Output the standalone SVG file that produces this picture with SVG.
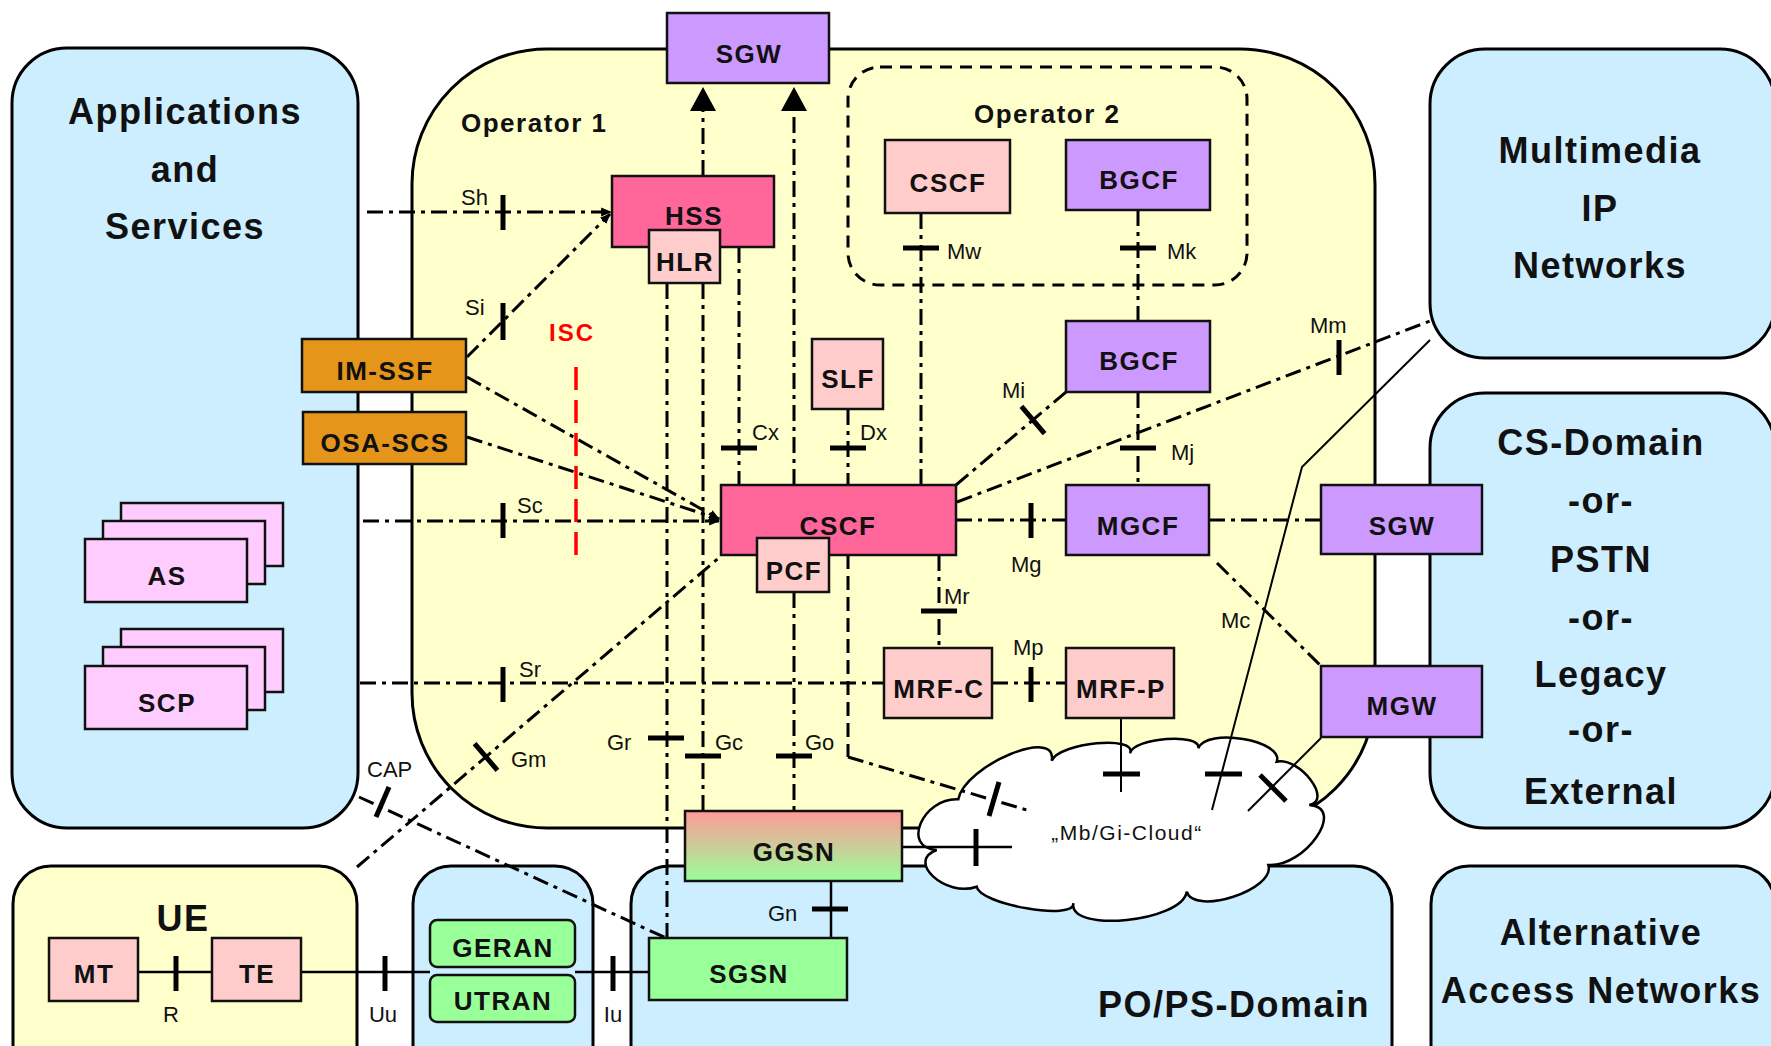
<svg xmlns="http://www.w3.org/2000/svg" width="1771" height="1046" viewBox="0 0 1771 1046">
<defs>
<linearGradient id="ggsnGrad" x1="0" y1="0" x2="0" y2="1">
<stop offset="0" stop-color="#ff9999"/>
<stop offset="1" stop-color="#99ff99"/>
</linearGradient>
<marker id="ah" viewBox="0 0 10 10" refX="9" refY="5" markerWidth="11" markerHeight="11" markerUnits="userSpaceOnUse" orient="auto"><path d="M0,1 L10,5 L0,9 z" fill="#000"/></marker>
<style>
.cont{stroke:#000;stroke-width:3}
.blue{fill:#cceeff}
.yel{fill:#ffffcc}
.box{stroke:#111;stroke-width:2.5}
.pink{fill:#ff6699}
.lpink{fill:#ffcccc}
.purple{fill:#cc99ff}
.orange{fill:#e5961a}
.mag{fill:#ffccff}
.green{fill:#99ff99}
.lbl{font-family:"Liberation Sans",Arial,sans-serif;font-weight:bold;font-size:26px;letter-spacing:1.5px;text-anchor:middle;fill:#111}
.title{font-family:"Liberation Sans",Arial,sans-serif;font-weight:bold;font-size:36px;letter-spacing:1.5px;text-anchor:middle;fill:#111}
.op{font-family:"Liberation Sans",Arial,sans-serif;font-weight:bold;font-size:26px;letter-spacing:1.5px;fill:#111}
.if{font-family:"Liberation Sans",Arial,sans-serif;font-size:22px;fill:#111}
.dd{fill:none;stroke:#000;stroke-width:3;stroke-dasharray:16 6 4 6}
.dash{fill:none;stroke:#000;stroke-width:3;stroke-dasharray:14 7}
.sol{fill:none;stroke:#000;stroke-width:2.5}
.thin{fill:none;stroke:#000;stroke-width:2}
.tick{stroke:#000;stroke-width:5;fill:none}
</style>
</defs>

<g id="containers">
<rect id="apps" x="12" y="48" width="346" height="780" rx="55" class="cont blue"/>
<rect id="operator1" x="412" y="49" width="963" height="779" rx="135" class="cont yel"/>
<rect id="mmip" x="1430" y="49" width="345" height="309" rx="55" class="cont blue"/>
<rect id="csdomain" x="1430" y="393" width="345" height="435" rx="55" class="cont blue"/>
<rect id="ue" x="13" y="866" width="344" height="220" rx="38" class="cont yel"/>
<rect id="ran" x="413" y="866" width="180" height="220" rx="38" class="cont blue"/>
<rect id="pops" x="631" y="866" width="761" height="220" rx="38" class="cont blue"/>
<rect id="alt" x="1431" y="866" width="344" height="220" rx="38" class="cont blue"/>
<rect id="operator2" x="848" y="67" width="399" height="218" rx="32" fill="none" stroke="#000" stroke-width="3" stroke-dasharray="12 8"/>
<text class="title" x="185" y="124">Applications</text>
<text class="title" x="185" y="182">and</text>
<text class="title" x="185" y="239">Services</text>
<text class="op" x="461" y="132">Operator 1</text>
<text class="op" x="974" y="123">Operator 2</text>
<text class="title" x="1600" y="163">Multimedia</text>
<text class="title" x="1600" y="221">IP</text>
<text class="title" x="1600" y="278">Networks</text>
<text class="title" x="1601" y="455">CS-Domain</text>
<text class="title" x="1601" y="513">-or-</text>
<text class="title" x="1601" y="572">PSTN</text>
<text class="title" x="1601" y="630">-or-</text>
<text class="title" x="1601" y="687">Legacy</text>
<text class="title" x="1601" y="742">-or-</text>
<text class="title" x="1601" y="804">External</text>
<text class="title" x="1601" y="945">Alternative</text>
<text class="title" x="1601" y="1003">Access Networks</text>
<text class="title" x="1370" y="1017" style="text-anchor:end">PO/PS-Domain</text>
<text class="title" x="183" y="931">UE</text>
<text x="572" y="341" style="font-family:'Liberation Sans',Arial,sans-serif;font-weight:bold;font-size:24px;letter-spacing:2px;text-anchor:middle;fill:#ff0000">ISC</text>
</g>

<g id="cloud">
<path d="M936.7,850 C901,848.2 922.6,797.5 958.3,799.3 C965,765 1058.4,726.4 1051.7,760.7 C1059.5,742.4 1137.8,735 1130,753.3 C1133.4,737.6 1201.7,732.6 1198.3,748.3 C1206,727 1284.4,740.4 1276.7,761.7 C1300.3,757.2 1332.9,800.5 1309.3,805 C1346.5,807.3 1305.5,867.3 1268.3,865 C1276,889.5 1194.4,916.2 1186.7,891.7 C1182.3,921.7 1068.9,933.3 1073.3,903.3 C1075.6,921 979,904.4 976.7,886.7 C945.5,897.8 905.5,861.1 936.7,850 Z" fill="#ffffff" stroke="#000" stroke-width="2.5"/>
<text x="1127" y="840" style="font-family:'Liberation Sans',Arial,sans-serif;font-size:21px;letter-spacing:1.5px;text-anchor:middle;fill:#111">„Mb/Gi-Cloud“</text>
</g>

<g id="connectors">
<path class="dd" d="M367,212 L611,212" marker-end="url(#ah)"/>
<path class="tick" d="M503,195 L503,230"/>
<text class="if" x="461" y="205">Sh</text>
<path class="dd" d="M467,357 L610,214" marker-end="url(#ah)"/>
<path class="tick" d="M503,303 L503,340"/>
<text class="if" x="465" y="315">Si</text>
<path class="dd" d="M467,377 L719,519" marker-end="url(#ah)"/>
<path class="dd" d="M467,437 L719,519" marker-end="url(#ah)"/>
<path class="dd" d="M363,521 L719,521" marker-end="url(#ah)"/>
<path class="tick" d="M503,503 L503,538"/>
<text class="if" x="517" y="513">Sc</text>
<path class="dd" d="M360,683 L884,683"/>
<path class="tick" d="M503,667 L503,702"/>
<text class="if" x="519" y="677">Sr</text>
<path class="dd" d="M357,867 L721,556"/>
<path class="tick" d="M474.6,743.7 L497.4,770.3"/>
<text class="if" x="511" y="767">Gm</text>
<path class="dd" d="M359,797 L666,938"/>
<path class="tick" d="M389,787 L376,817"/>
<text class="if" x="367" y="777">CAP</text>
<path d="M576,367 L576,557" fill="none" stroke="#ff0000" stroke-width="3.5" stroke-dasharray="23 10"/>

<path class="dd" d="M703,176 L703,110"/>
<polygon points="703,87 690,111 716,111" fill="#000"/>
<path class="dd" d="M794,485 L794,110"/>
<polygon points="794,87 781,111 807,111" fill="#000"/>

<path class="dd" d="M667,283 L667,938"/>
<path class="tick" d="M648,738 L684,738"/>
<text class="if" x="607" y="750">Gr</text>
<path class="dd" d="M703,283 L703,811"/>
<path class="tick" d="M685,756 L721,756"/>
<text class="if" x="715" y="750">Gc</text>
<path class="dd" d="M739,247 L739,485"/>
<path class="tick" d="M721,448 L757,448"/>
<text class="if" x="752" y="440">Cx</text>
<path class="dd" d="M848,409 L848,485"/>
<path class="tick" d="M830,448 L866,448"/>
<text class="if" x="860" y="440">Dx</text>
<path class="dd" d="M921,213 L921,485"/>
<path class="tick" d="M903,248 L939,248"/>
<text class="if" x="947" y="259">Mw</text>
<path class="dd" d="M1138,210 L1138,321"/>
<path class="tick" d="M1120,248 L1156,248"/>
<text class="if" x="1167" y="259">Mk</text>
<path class="dd" d="M1138,392 L1138,485"/>
<path class="tick" d="M1120,448 L1156,448"/>
<text class="if" x="1171" y="460">Mj</text>
<path class="dd" d="M939,555 L939,648"/>
<path class="tick" d="M921,611 L957,611"/>
<text class="if" x="944" y="604">Mr</text>
<path class="dd" d="M794,592 L794,811"/>
<path class="tick" d="M776,756 L812,756"/>
<text class="if" x="805" y="750">Go</text>
<path class="dash" d="M848,555 L848,757"/>
<path class="dd" d="M848,757 L1030,811"/>
<path class="tick" d="M999,782 L989,816"/>
<path class="dd" d="M956,520 L1066,520"/>
<path class="tick" d="M1031,503 L1031,538"/>
<text class="if" x="1011" y="572">Mg</text>
<path class="dd" d="M1209,520 L1321,520"/>
<path class="dd" d="M992,683 L1066,683"/>
<path class="tick" d="M1031,667 L1031,702"/>
<text class="if" x="1013" y="655">Mp</text>
<path class="dd" d="M956,485 L1066,392"/>
<path class="tick" d="M1021.4,406.3 L1044.6,433.7"/>
<text class="if" x="1002" y="398">Mi</text>
<path class="dd" d="M957,502 L1430,321"/>
<path class="tick" d="M1339,340 L1339,375"/>
<text class="if" x="1310" y="333">Mm</text>
<path class="dd" d="M1217,563 L1320,665"/>
<text class="if" x="1221" y="628">Mc</text>
<path class="thin" d="M1430,340 L1302,467 L1212,810"/>
<path class="tick" d="M1205,774 L1242,774"/>
<path class="thin" d="M1121,718 L1121,792"/>
<path class="tick" d="M1103,774 L1140,774"/>
<path class="thin" d="M1321,738 L1248,811"/>
<path class="tick" d="M1260,775 L1286,801"/>
<path class="sol" d="M902,847 L1012,847"/>
<path class="tick" d="M976,829 L976,866"/>
<path class="sol" d="M831,881 L831,938"/>
<path class="tick" d="M812,909 L848,909"/>
<text class="if" x="768" y="921">Gn</text>
<path class="sol" d="M138,972 L212,972"/>
<path class="tick" d="M176,956 L176,991"/>
<text class="if" x="171" y="1022" text-anchor="middle">R</text>
<path class="sol" d="M301,972 L430,972"/>
<path class="tick" d="M385,956 L385,991"/>
<text class="if" x="383" y="1022" text-anchor="middle">Uu</text>
<path class="sol" d="M575,972 L649,972"/>
<path class="tick" d="M613,956 L613,991"/>
<text class="if" x="613" y="1022" text-anchor="middle">Iu</text>
</g>

<g id="sgw-top"><rect x="667" y="13" width="162" height="70" class="box purple"/><text class="lbl" x="749" y="63">SGW</text></g>
<g id="hss"><rect x="612" y="176" width="162" height="71" class="box pink"/><text class="lbl" x="694" y="225">HSS</text></g>
<g id="hlr"><rect x="649" y="230" width="71" height="53" class="box lpink"/><text class="lbl" x="685" y="271">HLR</text></g>
<g id="cscf-op2"><rect x="885" y="140" width="125" height="73" class="box lpink"/><text class="lbl" x="948" y="192">CSCF</text></g>
<g id="bgcf-op2"><rect x="1066" y="140" width="144" height="70" class="box purple"/><text class="lbl" x="1139" y="189">BGCF</text></g>
<g id="bgcf"><rect x="1066" y="321" width="144" height="71" class="box purple"/><text class="lbl" x="1139" y="370">BGCF</text></g>
<g id="slf"><rect x="812" y="339" width="71" height="70" class="box lpink"/><text class="lbl" x="848" y="388">SLF</text></g>
<g id="im-ssf"><rect x="302" y="339" width="164" height="53" class="box orange"/><text class="lbl" x="385" y="380">IM-SSF</text></g>
<g id="osa-scs"><rect x="303" y="412" width="163" height="52" class="box orange"/><text class="lbl" x="385" y="452">OSA-SCS</text></g>
<g id="cscf"><rect x="721" y="485" width="235" height="70" class="box pink"/><text class="lbl" x="838" y="535">CSCF</text></g>
<g id="pcf"><rect x="757" y="538" width="72" height="54" class="box lpink"/><text class="lbl" x="794" y="580">PCF</text></g>
<g id="mgcf"><rect x="1066" y="485" width="143" height="70" class="box purple"/><text class="lbl" x="1138" y="535">MGCF</text></g>
<g id="sgw-right"><rect x="1321" y="485" width="161" height="69" class="box purple"/><text class="lbl" x="1402" y="535">SGW</text></g>
<g id="mrf-c"><rect x="884" y="648" width="108" height="70" class="box lpink"/><text class="lbl" x="939" y="698">MRF-C</text></g>
<g id="mrf-p"><rect x="1066" y="648" width="108" height="70" class="box lpink"/><text class="lbl" x="1121" y="698">MRF-P</text></g>
<g id="mgw"><rect x="1321" y="666" width="161" height="71" class="box purple"/><text class="lbl" x="1402" y="715">MGW</text></g>
<g id="as">
<rect x="121" y="503" width="162" height="63" class="box mag"/>
<rect x="103" y="521" width="162" height="63" class="box mag"/>
<rect x="85" y="539" width="162" height="63" class="box mag"/>
<text class="lbl" x="167" y="585">AS</text>
</g>
<g id="scp">
<rect x="121" y="629" width="162" height="63" class="box mag"/>
<rect x="103" y="647" width="162" height="63" class="box mag"/>
<rect x="85" y="666" width="162" height="63" class="box mag"/>
<text class="lbl" x="167" y="712">SCP</text>
</g>
<g id="ggsn"><rect x="685" y="811" width="217" height="70" class="box" fill="url(#ggsnGrad)"/><text class="lbl" x="794" y="861">GGSN</text></g>
<g id="sgsn"><rect x="649" y="938" width="198" height="62" class="box green"/><text class="lbl" x="749" y="983">SGSN</text></g>
<g id="geran"><rect x="430" y="920" width="145" height="47" rx="7" class="box green"/><text class="lbl" x="503" y="957">GERAN</text></g>
<g id="utran"><rect x="430" y="975" width="145" height="47" rx="7" class="box green"/><text class="lbl" x="503" y="1010">UTRAN</text></g>
<g id="mt"><rect x="49" y="938" width="89" height="63" class="box lpink"/><text class="lbl" x="94" y="983">MT</text></g>
<g id="te"><rect x="212" y="938" width="89" height="63" class="box lpink"/><text class="lbl" x="257" y="983">TE</text></g>
</svg>
